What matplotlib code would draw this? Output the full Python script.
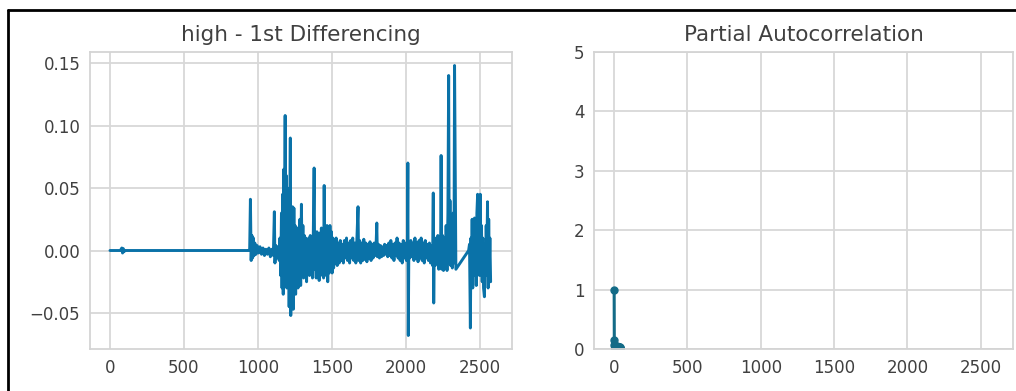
import matplotlib
matplotlib.use("Agg")
import matplotlib.pyplot as plt
from matplotlib.lines import Line2D
import seaborn as sns

sns.set_style("whitegrid")
plt.rcParams['font.family'] = ['DejaVu Sans']

# first difference of 'high' (index, value)
diff_idx = [0, 70, 80, 85, 90, 95, 100, 940, 945,
            950, 955, 960, 965, 970, 975, 980, 988, 995, 1005, 1015, 1025, 1035, 1045, 1055, 1065,
            1075, 1085, 1095, 1105, 1112, 1116, 1122, 1130, 1138, 1145, 1150, 1155, 1160, 1164, 1168,
            1172, 1176, 1180, 1185, 1188, 1192, 1196, 1200, 1204, 1208, 1212, 1216, 1220, 1223, 1227,
            1231, 1235, 1240, 1244, 1248, 1252, 1256, 1260, 1264, 1268, 1272, 1276, 1280, 1285, 1290,
            1295, 1300, 1305, 1310, 1315, 1320, 1325, 1330, 1335, 1340, 1345, 1350, 1355, 1360, 1365,
            1370, 1375, 1381, 1385, 1390, 1395, 1400, 1405, 1410, 1415, 1420, 1425, 1430, 1435, 1440,
            1445, 1449, 1453, 1458, 1463, 1468, 1473, 1478, 1483, 1488, 1493, 1498, 1503, 1508, 1513,
            1518, 1523, 1530, 1537, 1544, 1551, 1558, 1565, 1572, 1579, 1586, 1593, 1600, 1607, 1614,
            1621, 1628, 1635, 1642, 1649, 1656, 1663, 1670, 1678, 1682, 1689, 1696, 1703, 1710, 1717,
            1724, 1731, 1738, 1745, 1752, 1759, 1766, 1773, 1780, 1787, 1794, 1800, 1805, 1809, 1816,
            1823, 1830, 1837, 1844, 1851, 1858, 1865, 1872, 1879, 1886, 1893, 1900, 1907, 1914, 1921,
            1928, 1935, 1942, 1949, 1956, 1963, 1970, 1977, 1984, 1991, 1998, 2005, 2012, 2015, 2018,
            2022, 2028, 2035, 2042, 2049, 2056, 2063, 2070, 2077, 2084, 2091, 2098, 2105, 2112, 2119,
            2126, 2133, 2140, 2147, 2154, 2161, 2168, 2175, 2182, 2187, 2190, 2194, 2200, 2206, 2212,
            2218, 2224, 2230, 2236, 2240, 2244, 2250, 2256, 2262, 2268, 2274, 2280, 2286, 2291, 2295,
            2300, 2305, 2310, 2316, 2322, 2327, 2331, 2340, 2426, 2432, 2438, 2442, 2446, 2450, 2454,
            2458, 2462, 2466, 2470, 2474, 2478, 2482, 2487, 2490, 2495, 2500, 2505, 2509, 2513, 2518,
            2522, 2527, 2533, 2537, 2541, 2545, 2549, 2554, 2558, 2562, 2566, 2570, 2575]
diff_val = [0.0, 0.0, 0.002, -0.002, 0.0015, -0.001, 0.0, 0.0, 0.001,
            0.041, -0.008, 0.012, -0.006, 0.010, -0.004, 0.006, -0.003, 0.004, -0.002, 0.003, -0.003, 0.002, -0.004, 0.001, -0.003,
            0.002, -0.005, 0.001, -0.004, 0.031, -0.010, 0.004, -0.006, 0.003, -0.008, 0.010, -0.020, 0.030, -0.030, 0.045,
            -0.035, 0.065, -0.020, 0.108, -0.010, 0.060, -0.030, 0.050, -0.020, 0.040, -0.045, 0.020, 0.090, -0.052, 0.030,
            -0.040, 0.035, -0.047, 0.034, -0.030, 0.020, -0.035, 0.015, -0.025, 0.018, -0.030, 0.010, -0.020, 0.025, -0.028,
            0.037, -0.015, 0.020, -0.022, 0.012, -0.018, 0.010, -0.025, 0.008, -0.015, 0.010, -0.020, 0.012, -0.018, 0.008,
            -0.022, 0.010, 0.066, -0.015, 0.012, -0.022, 0.015, -0.018, 0.010, -0.024, 0.014, -0.020, 0.018, -0.015, 0.010,
            -0.022, 0.052, -0.012, 0.015, -0.020, 0.020, -0.025, 0.012, -0.018, 0.020, -0.012, 0.015, -0.018, 0.010, -0.014,
            0.008, -0.010, 0.010, -0.012, 0.006, -0.010, 0.008, -0.008, 0.005, -0.010, 0.008, -0.006, 0.010, -0.008, 0.006,
            -0.010, 0.008, -0.006, 0.010, -0.008, 0.006, -0.010, 0.008, 0.035, -0.008, 0.008, -0.010, 0.006, -0.008, 0.009,
            -0.007, 0.006, -0.009, 0.005, -0.006, 0.007, -0.008, 0.005, -0.006, 0.006, -0.004, 0.004, 0.022, -0.005, 0.005,
            -0.006, 0.004, -0.005, 0.003, -0.004, 0.005, -0.003, 0.004, -0.005, 0.006, -0.004, 0.008, -0.006, 0.005, -0.008,
            0.006, -0.004, 0.010, -0.006, 0.006, -0.008, 0.005, -0.010, 0.008, -0.006, 0.006, -0.008, 0.004, 0.070, -0.068,
            0.005, -0.006, 0.008, -0.005, 0.006, -0.008, 0.010, -0.006, 0.006, -0.009, 0.008, -0.006, 0.010, -0.008, 0.006,
            -0.010, 0.008, -0.006, 0.005, -0.008, 0.006, -0.010, 0.004, -0.012, 0.046, -0.042, 0.008, -0.012, 0.010, -0.010,
            0.012, -0.015, 0.010, -0.012, 0.076, -0.015, 0.012, -0.016, 0.010, -0.014, 0.020, -0.016, 0.030, 0.140, -0.010,
            0.040, -0.012, 0.020, -0.014, 0.030, -0.010, 0.148, -0.015, 0.0, 0.005, -0.062, 0.010, -0.020, 0.025, -0.030,
            0.020, -0.015, 0.026, -0.020, 0.010, -0.028, 0.030, 0.045, -0.010, 0.030, -0.020, 0.045, -0.015, 0.020, -0.025,
            0.010, -0.030, -0.037, 0.005, -0.020, 0.020, -0.010, 0.039, -0.030, 0.025, -0.015, 0.010, -0.025]

# partial autocorrelation by lag
pacf_vals = [1.0, 0.15, 0.06, 0.04, 0.03, 0.05, 0.02, 0.04, 0.03, 0.02, 0.05, 0.03, 0.02, 0.04,
             0.01, 0.03, 0.02, 0.04, 0.02, 0.01, 0.03, 0.05, 0.02, 0.03, 0.01, 0.04, 0.02, 0.03,
             0.01, 0.02, 0.04, 0.02, 0.03, 0.01, 0.02, 0.03, 0.01, 0.02, 0.03, 0.01, 0.02]

line_color = '#0a72a8'
pacf_color = '#136b87'
text_color = '#404040'

fig = plt.figure(figsize=(10.16, 3.91), dpi=100)
ax1 = fig.add_axes([0.0886, 0.1074, 0.4154, 0.7596])
ax2 = fig.add_axes([0.585, 0.1074, 0.412, 0.7596], sharex=ax1)

ax1.plot(diff_idx, diff_val, color=line_color, lw=2.1)
ax1.set_title("high - 1st Differencing", fontsize=15.5, color=text_color, pad=8)
ax1.set_yticks([-0.05, 0.0, 0.05, 0.10, 0.15])

ax2.plot(range(len(pacf_vals)), pacf_vals, color=pacf_color, lw=2.2, marker='o', ms=5)
ax2.set_title("Partial Autocorrelation", fontsize=15.5, color=text_color, pad=8)
ax2.set_ylim(0, 5)
ax2.set_xlim(-135, 2720)
ax2.set_xticks([0, 500, 1000, 1500, 2000, 2500])

for ax in (ax1, ax2):
    ax.tick_params(axis='both', labelsize=12, colors=text_color, length=0, pad=7)
    ax.grid(True, color='#d8d8d8', lw=1.3)
    for s in ax.spines.values():
        s.set_color('#d4d4d4')
        s.set_linewidth(1.3)

# screenshot frame lines on the top and left
fig.add_artist(Line2D([8 / 1016, 8 / 1016], [0, 1 - 10 / 391], transform=fig.transFigure,
                      color='black', lw=2))
fig.add_artist(Line2D([8 / 1016, 1], [1 - 10 / 391, 1 - 10 / 391], transform=fig.transFigure,
                      color='black', lw=2))

fig.savefig("out.png", dpi=100)
plt.close(fig)
